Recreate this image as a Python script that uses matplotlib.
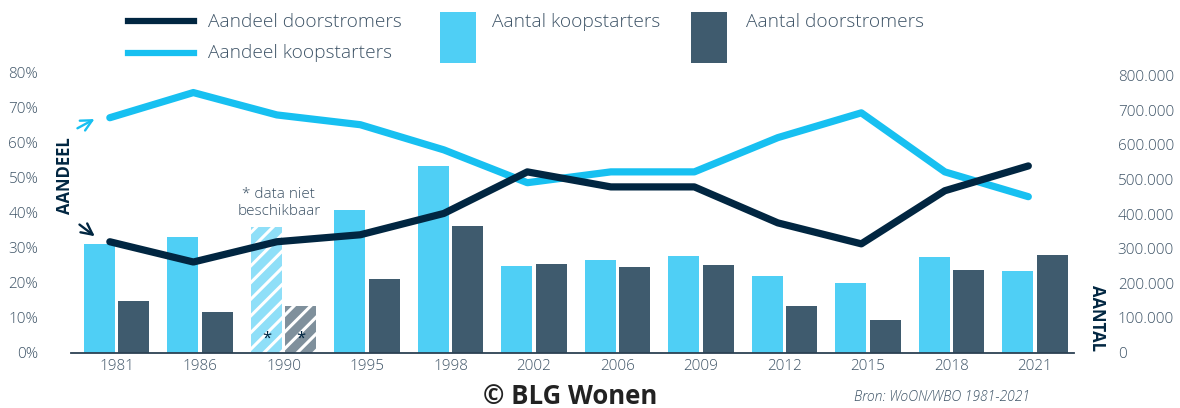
import matplotlib
matplotlib.use("Agg")
import matplotlib.pyplot as plt
import numpy as np
from matplotlib.lines import Line2D
from matplotlib.patches import Rectangle
from matplotlib.ticker import FixedLocator, FuncFormatter

# ---------------------------------------------------------------------------
# Data
# ---------------------------------------------------------------------------
years = ["1981", "1986", "1990", "1995", "1998", "2002",
         "2006", "2009", "2012", "2015", "2018", "2021"]

# Counts (right axis)
aantal_koopstarters = [315000, 335000, 362000, 411000, 539000, 251000,
                       268000, 280000, 222000, 201000, 277000, 236000]
aantal_doorstromers = [150000, 118000, 135000, 213000, 367000, 257000,
                       248000, 254000, 135000, 94000, 239000, 283000]

# Shares in % (left axis)
aandeel_koopstarters = [67.2, 74.4, 68.0, 65.2, 58.0, 48.6,
                        51.7, 51.7, 61.5, 68.6, 51.7, 44.6]
aandeel_doorstromers = [31.7, 25.9, 31.7, 33.7, 39.8, 51.7,
                        47.4, 47.4, 37.1, 31.1, 46.3, 53.4]

missing_year = "1990"  # counts estimated, shown hatched

left_ticks = [0, 10, 20, 30, 40, 50, 60, 70, 80]
right_ticks = [0, 100000, 200000, 300000, 400000, 500000, 600000, 700000, 800000]

# ---------------------------------------------------------------------------
# Style
# ---------------------------------------------------------------------------
C_LINE_DARK = "#012641"
C_LINE_LIGHT = "#17c0f1"
C_BAR_LIGHT = "#4fcff5"
C_BAR_DARK = "#3f5b6e"
C_BAR_LIGHT_NA = "#8fdff8"
C_BAR_DARK_NA = "#7f909c"
C_TEXT = "#3e5467"
C_AXIS = "#2c4153"

plt.rcParams["font.family"] = ["Open Sans", "DejaVu Sans"]
plt.rcParams["hatch.linewidth"] = 2.2

W, H = 1180, 408
fig = plt.figure(figsize=(W / 100, H / 100), dpi=100)

ax_l, ax_r, ax_b, ax_t = 71, 1074, 352.5, 73
ax = fig.add_axes([ax_l / W, (H - ax_b) / H, (ax_r - ax_l) / W, (ax_b - ax_t) / H])
ax2 = ax.twinx()

x = np.arange(len(years))
bar_w = 0.371
off = 0.204
line_off = -0.08

# --- Bars (on the right-hand scale) ---
for i, yr in enumerate(years):
    if yr == missing_year:
        ax2.bar(x[i] - off, aantal_koopstarters[i], bar_w, color=C_BAR_LIGHT_NA,
                edgecolor="white", linewidth=0, hatch="//", zorder=2)
        ax2.bar(x[i] + off, aantal_doorstromers[i], bar_w, color=C_BAR_DARK_NA,
                edgecolor="white", linewidth=0, hatch="//", zorder=2)
        for dx in (-off, off):
            ax2.text(x[i] + dx, 40000, "*", ha="center", va="center",
                     fontsize=12, color=C_LINE_DARK, zorder=3)
    else:
        ax2.bar(x[i] - off, aantal_koopstarters[i], bar_w, color=C_BAR_LIGHT,
                linewidth=0, zorder=2)
        ax2.bar(x[i] + off, aantal_doorstromers[i], bar_w, color=C_BAR_DARK,
                linewidth=0, zorder=2)

# --- Lines (on the left-hand scale), drawn above bars ---
ax.set_zorder(ax2.get_zorder() + 1)
ax.patch.set_visible(False)
ax.plot(x + line_off, aandeel_koopstarters, color=C_LINE_LIGHT, lw=5.2,
        solid_capstyle="round", solid_joinstyle="round", zorder=4)
ax.plot(x + line_off, aandeel_doorstromers, color=C_LINE_DARK, lw=5.2,
        solid_capstyle="round", solid_joinstyle="round", zorder=5)

# --- Axes ---
ax.set_xlim(-0.545, 11.467)
ax.set_ylim(0, 80)
ax2.set_ylim(0, 808000)

ax.set_xticks(x)
ax.set_xticklabels(years)
ax.yaxis.set_major_locator(FixedLocator(left_ticks))
ax.yaxis.set_major_formatter(FuncFormatter(lambda v, p: f"{v:.0f}%"))
ax2.yaxis.set_major_locator(FixedLocator(right_ticks))
ax2.yaxis.set_major_formatter(
    FuncFormatter(lambda v, p: f"{v:,.0f}".replace(",", ".")))

for a in (ax, ax2):
    for s in ("top", "right", "left", "bottom"):
        a.spines[s].set_visible(False)
ax.spines["bottom"].set_visible(True)
ax.spines["bottom"].set_color(C_AXIS)
ax.spines["bottom"].set_linewidth(1.3)

# pads are in points (1 pt = 1.39 px at 100 dpi)
ax.tick_params(axis="x", length=0, pad=4.5, labelsize=11, labelcolor=C_TEXT)
ax.tick_params(axis="y", length=0, pad=23.5, labelsize=11, labelcolor=C_TEXT)
ax2.tick_params(axis="y", length=0, pad=31.5, labelsize=11, labelcolor=C_TEXT)
for lab in ax.get_yticklabels() + ax.get_xticklabels() + ax2.get_yticklabels():
    lab.set_fontweight("light")

# --- Axis titles ---
fig.text(65 / W, 1 - 176 / H, "AANDEEL", rotation=90, ha="center", va="center",
         fontsize=12, fontweight="bold", color=C_LINE_DARK)
fig.text(1097.5 / W, 1 - 318 / H, "AANTAL", rotation=270, ha="center", va="center",
         fontsize=12, fontweight="bold", color=C_LINE_DARK)

# --- Pointer arrows to the first line points ---
ax.annotate("", xy=(-0.234, aandeel_koopstarters[0]),
            xytext=(-0.497, aandeel_koopstarters[0] - 3.4),
            arrowprops=dict(arrowstyle="->,head_length=0.8,head_width=0.4",
                            color=C_LINE_LIGHT, lw=1.7), annotation_clip=False)
ax.annotate("", xy=(-0.234, aandeel_doorstromers[0] + 1.1),
            xytext=(-0.47, aandeel_doorstromers[0] + 5.4),
            arrowprops=dict(arrowstyle="->,head_length=0.8,head_width=0.4",
                            color=C_LINE_DARK, lw=1.7), annotation_clip=False)

# --- Note above the 1990 bars ---
i90 = years.index(missing_year)
ax.text(x[i90] - 0.055, 42.7, "* data niet\nbeschikbaar", ha="center", va="center",
        fontsize=11, fontweight="light", color=C_TEXT, linespacing=1.2)

# --- Legend (manual, as in the reference) ---
def fx(px):
    return px / W


def fy(py):
    return 1 - py / H


fig.add_artist(Line2D([fx(128), fx(194)], [fy(21), fy(21)], color=C_LINE_DARK,
                      lw=4.5, transform=fig.transFigure))
fig.add_artist(Line2D([fx(128), fx(194)], [fy(53), fy(53)], color=C_LINE_LIGHT,
                      lw=4.5, transform=fig.transFigure))
fig.text(fx(208), fy(22), "Aandeel doorstromers", ha="left", va="center",
         fontsize=13.8, fontweight="light", color=C_TEXT)
fig.text(fx(208), fy(53), "Aandeel koopstarters", ha="left", va="center",
         fontsize=13.8, fontweight="light", color=C_TEXT)

fig.add_artist(Rectangle((fx(440), fy(63)), fx(36), 51 / H, color=C_BAR_LIGHT,
                         transform=fig.transFigure, lw=0))
fig.add_artist(Rectangle((fx(691), fy(63)), fx(36), 51 / H, color=C_BAR_DARK,
                         transform=fig.transFigure, lw=0))
fig.text(fx(492), fy(22), "Aantal koopstarters", ha="left", va="center",
         fontsize=13.8, fontweight="light", color=C_TEXT)
fig.text(fx(746), fy(22), "Aantal doorstromers", ha="left", va="center",
         fontsize=13.8, fontweight="light", color=C_TEXT)

# --- Footer ---
fig.text(fx(570), fy(396), "© BLG Wonen", ha="center", va="center",
         fontsize=18.5, fontweight="bold", color="#222222")
fig.text(fx(1030), fy(397), "Bron: WoON/WBO 1981-2021", ha="right", va="center",
         fontsize=10, style="italic", fontweight="light", color=C_TEXT)

fig.savefig("out.png", dpi=100)
